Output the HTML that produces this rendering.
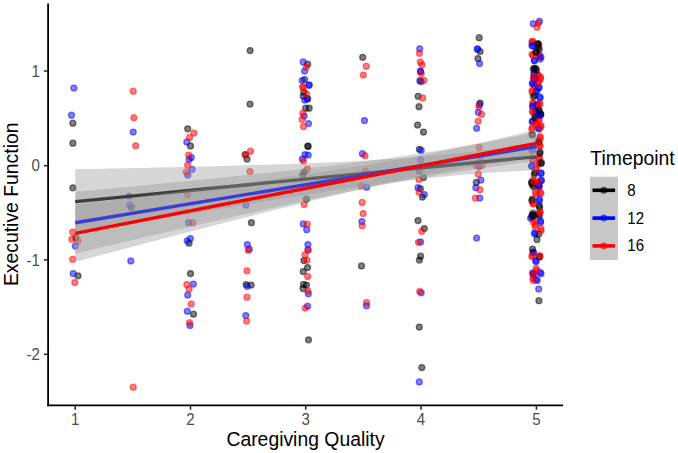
<!DOCTYPE html>
<html><head><meta charset="utf-8"><title>plot</title>
<style>
html,body{margin:0;padding:0;background:#fff;overflow:hidden}
svg{display:block;}
text{font-family:"Liberation Sans",sans-serif;}
.p circle{stroke-width:1.25;fill-opacity:.5;stroke-opacity:.5}
.k{fill:#000;stroke:#000}.b{fill:#00f;stroke:#00f}.r{fill:#f00;stroke:#f00}
.tl{font-size:16.4px;fill:#4d4d4d}
.tt{font-size:19.9px;fill:#000}
.lt{font-size:19.5px;fill:#000}
.lg{font-size:16.4px;fill:#000}
</style></head><body>
<svg width="678" height="453" viewBox="0 0 678 453">
<rect width="678" height="453" fill="#fff"/>

<g class="p">
<circle class="k" cx="72.9" cy="123.2" r="3"/>
<circle class="k" cx="72.9" cy="143.2" r="3"/>
<circle class="k" cx="72.9" cy="187.8" r="3"/>
<circle class="k" cx="75.9" cy="237.7" r="3"/>
<circle class="k" cx="78.0" cy="275.8" r="3"/>
<circle class="k" cx="131.5" cy="207.4" r="3"/>
<circle class="k" cx="187.7" cy="128.8" r="3"/>
<circle class="k" cx="190.5" cy="145.9" r="3"/>
<circle class="k" cx="189.0" cy="243.2" r="3"/>
<circle class="k" cx="190.5" cy="273.6" r="3"/>
<circle class="k" cx="193.5" cy="314.2" r="3"/>
<circle class="k" cx="250.1" cy="50.5" r="3"/>
<circle class="k" cx="250.0" cy="104.1" r="3"/>
<circle class="k" cx="245.2" cy="154.6" r="3"/>
<circle class="k" cx="247.0" cy="159.0" r="3"/>
<circle class="k" cx="251.4" cy="222.7" r="3"/>
<circle class="k" cx="246.1" cy="284.6" r="3"/>
<circle class="k" cx="251.1" cy="285.1" r="3"/>
<circle class="k" cx="307.6" cy="64.2" r="3"/>
<circle class="k" cx="304.6" cy="79.6" r="3"/>
<circle class="k" cx="303.2" cy="96.1" r="3"/>
<circle class="k" cx="307.6" cy="98.6" r="3"/>
<circle class="k" cx="305.7" cy="108.2" r="3"/>
<circle class="k" cx="309.2" cy="108.2" r="3"/>
<circle class="k" cx="308.1" cy="146.4" r="3"/>
<circle class="k" cx="307.8" cy="146.0" r="3"/>
<circle class="k" cx="304.3" cy="172.1" r="3"/>
<circle class="k" cx="302.6" cy="175.2" r="3"/>
<circle class="k" cx="306.4" cy="199.2" r="3"/>
<circle class="k" cx="303.9" cy="260.6" r="3"/>
<circle class="k" cx="307.6" cy="267.5" r="3"/>
<circle class="k" cx="303.2" cy="271.5" r="3"/>
<circle class="k" cx="303.5" cy="284.4" r="3"/>
<circle class="k" cx="306.5" cy="285.0" r="3"/>
<circle class="k" cx="303.0" cy="288.6" r="3"/>
<circle class="k" cx="308.5" cy="339.8" r="3"/>
<circle class="k" cx="303.8" cy="92.3" r="3"/>
<circle class="k" cx="362.7" cy="57.3" r="3"/>
<circle class="k" cx="361.5" cy="265.9" r="3"/>
<circle class="k" cx="419.9" cy="80.7" r="3"/>
<circle class="k" cx="418.1" cy="96.3" r="3"/>
<circle class="k" cx="419.0" cy="106.7" r="3"/>
<circle class="k" cx="417.6" cy="125.0" r="3"/>
<circle class="k" cx="423.5" cy="132.1" r="3"/>
<circle class="k" cx="419.4" cy="149.3" r="3"/>
<circle class="k" cx="419.4" cy="171.1" r="3"/>
<circle class="k" cx="423.5" cy="177.5" r="3"/>
<circle class="k" cx="420.4" cy="188.7" r="3"/>
<circle class="k" cx="422.4" cy="197.1" r="3"/>
<circle class="k" cx="418.0" cy="220.5" r="3"/>
<circle class="k" cx="424.3" cy="228.6" r="3"/>
<circle class="k" cx="420.6" cy="256.2" r="3"/>
<circle class="k" cx="419.4" cy="260.0" r="3"/>
<circle class="k" cx="419.3" cy="327.0" r="3"/>
<circle class="k" cx="421.8" cy="367.5" r="3"/>
<circle class="k" cx="479.2" cy="37.7" r="3"/>
<circle class="k" cx="480.1" cy="51.5" r="3"/>
<circle class="k" cx="478.0" cy="58.6" r="3"/>
<circle class="k" cx="480.1" cy="103.0" r="3"/>
<circle class="k" cx="476.3" cy="182.4" r="3"/>
<circle class="b" cx="73.9" cy="88.0" r="3"/>
<circle class="b" cx="71.5" cy="115.2" r="3"/>
<circle class="b" cx="75.4" cy="246.0" r="3"/>
<circle class="b" cx="73.2" cy="273.5" r="3"/>
<circle class="b" cx="133.2" cy="132.0" r="3"/>
<circle class="b" cx="129.3" cy="196.3" r="3"/>
<circle class="b" cx="129.7" cy="205.1" r="3"/>
<circle class="b" cx="130.8" cy="260.9" r="3"/>
<circle class="b" cx="186.8" cy="141.9" r="3"/>
<circle class="b" cx="191.2" cy="157.4" r="3"/>
<circle class="b" cx="189.1" cy="159.6" r="3"/>
<circle class="b" cx="192.1" cy="169.3" r="3"/>
<circle class="b" cx="187.7" cy="175.1" r="3"/>
<circle class="b" cx="188.6" cy="222.7" r="3"/>
<circle class="b" cx="190.4" cy="238.6" r="3"/>
<circle class="b" cx="187.2" cy="240.8" r="3"/>
<circle class="b" cx="193.4" cy="284.0" r="3"/>
<circle class="b" cx="187.7" cy="295.1" r="3"/>
<circle class="b" cx="187.3" cy="311.2" r="3"/>
<circle class="b" cx="190.0" cy="325.4" r="3"/>
<circle class="b" cx="245.8" cy="204.9" r="3"/>
<circle class="b" cx="247.3" cy="244.5" r="3"/>
<circle class="b" cx="249.3" cy="249.2" r="3"/>
<circle class="b" cx="247.3" cy="286.3" r="3"/>
<circle class="b" cx="245.8" cy="315.5" r="3"/>
<circle class="b" cx="303.2" cy="61.9" r="3"/>
<circle class="b" cx="304.6" cy="71.0" r="3"/>
<circle class="b" cx="302.1" cy="80.5" r="3"/>
<circle class="b" cx="309.2" cy="84.8" r="3"/>
<circle class="b" cx="304.8" cy="100.0" r="3"/>
<circle class="b" cx="307.4" cy="99.2" r="3"/>
<circle class="b" cx="304.1" cy="116.0" r="3"/>
<circle class="b" cx="308.5" cy="123.6" r="3"/>
<circle class="b" cx="305.0" cy="154.5" r="3"/>
<circle class="b" cx="308.2" cy="155.1" r="3"/>
<circle class="b" cx="302.4" cy="159.1" r="3"/>
<circle class="b" cx="303.3" cy="223.9" r="3"/>
<circle class="b" cx="306.7" cy="229.7" r="3"/>
<circle class="b" cx="307.9" cy="244.6" r="3"/>
<circle class="b" cx="308.0" cy="249.8" r="3"/>
<circle class="b" cx="308.3" cy="293.7" r="3"/>
<circle class="b" cx="307.6" cy="306.2" r="3"/>
<circle class="b" cx="309.0" cy="85.3" r="3"/>
<circle class="b" cx="477.6" cy="49.2" r="3"/>
<circle class="b" cx="420.4" cy="71.2" r="3"/>
<circle class="b" cx="364.5" cy="120.5" r="3"/>
<circle class="b" cx="362.4" cy="153.7" r="3"/>
<circle class="b" cx="366.6" cy="187.2" r="3"/>
<circle class="b" cx="361.9" cy="221.5" r="3"/>
<circle class="b" cx="366.5" cy="305.8" r="3"/>
<circle class="b" cx="419.7" cy="48.8" r="3"/>
<circle class="b" cx="420.6" cy="71.5" r="3"/>
<circle class="b" cx="421.2" cy="81.6" r="3"/>
<circle class="b" cx="421.2" cy="150.4" r="3"/>
<circle class="b" cx="420.3" cy="159.9" r="3"/>
<circle class="b" cx="418.0" cy="187.7" r="3"/>
<circle class="b" cx="424.3" cy="194.5" r="3"/>
<circle class="b" cx="420.6" cy="241.9" r="3"/>
<circle class="b" cx="421.2" cy="292.8" r="3"/>
<circle class="b" cx="419.3" cy="381.9" r="3"/>
<circle class="b" cx="477.4" cy="48.9" r="3"/>
<circle class="b" cx="479.6" cy="63.6" r="3"/>
<circle class="b" cx="479.5" cy="104.7" r="3"/>
<circle class="b" cx="478.3" cy="112.3" r="3"/>
<circle class="b" cx="476.6" cy="128.3" r="3"/>
<circle class="b" cx="478.9" cy="166.5" r="3"/>
<circle class="b" cx="480.9" cy="180.0" r="3"/>
<circle class="b" cx="475.8" cy="187.7" r="3"/>
<circle class="b" cx="479.8" cy="198.1" r="3"/>
<circle class="b" cx="476.6" cy="238.0" r="3"/>
<circle class="r" cx="72.7" cy="232.1" r="3"/>
<circle class="r" cx="71.8" cy="239.3" r="3"/>
<circle class="r" cx="78.0" cy="240.9" r="3"/>
<circle class="r" cx="72.7" cy="259.3" r="3"/>
<circle class="r" cx="74.8" cy="282.5" r="3"/>
<circle class="r" cx="133.2" cy="91.2" r="3"/>
<circle class="r" cx="133.9" cy="117.7" r="3"/>
<circle class="r" cx="135.7" cy="145.8" r="3"/>
<circle class="r" cx="133.2" cy="387.2" r="3"/>
<circle class="r" cx="193.9" cy="133.0" r="3"/>
<circle class="r" cx="189.5" cy="137.4" r="3"/>
<circle class="r" cx="188.6" cy="155.1" r="3"/>
<circle class="r" cx="187.7" cy="165.2" r="3"/>
<circle class="r" cx="186.3" cy="171.9" r="3"/>
<circle class="r" cx="187.7" cy="194.4" r="3"/>
<circle class="r" cx="192.7" cy="222.7" r="3"/>
<circle class="r" cx="186.8" cy="284.6" r="3"/>
<circle class="r" cx="189.1" cy="289.3" r="3"/>
<circle class="r" cx="191.2" cy="304.1" r="3"/>
<circle class="r" cx="189.5" cy="322.7" r="3"/>
<circle class="r" cx="250.5" cy="151.2" r="3"/>
<circle class="r" cx="245.6" cy="154.9" r="3"/>
<circle class="r" cx="250.0" cy="171.6" r="3"/>
<circle class="r" cx="248.2" cy="250.2" r="3"/>
<circle class="r" cx="247.0" cy="270.8" r="3"/>
<circle class="r" cx="247.0" cy="297.2" r="3"/>
<circle class="r" cx="246.6" cy="321.0" r="3"/>
<circle class="r" cx="306.3" cy="67.0" r="3"/>
<circle class="r" cx="302.6" cy="86.9" r="3"/>
<circle class="r" cx="303.4" cy="87.5" r="3"/>
<circle class="r" cx="306.5" cy="93.8" r="3"/>
<circle class="r" cx="302.8" cy="113.3" r="3"/>
<circle class="r" cx="302.0" cy="119.6" r="3"/>
<circle class="r" cx="303.5" cy="126.6" r="3"/>
<circle class="r" cx="303.5" cy="161.0" r="3"/>
<circle class="r" cx="307.4" cy="169.0" r="3"/>
<circle class="r" cx="304.1" cy="204.6" r="3"/>
<circle class="r" cx="307.3" cy="224.2" r="3"/>
<circle class="r" cx="308.1" cy="250.1" r="3"/>
<circle class="r" cx="305.0" cy="254.8" r="3"/>
<circle class="r" cx="307.0" cy="260.2" r="3"/>
<circle class="r" cx="307.7" cy="276.4" r="3"/>
<circle class="r" cx="307.9" cy="291.0" r="3"/>
<circle class="r" cx="305.3" cy="308.0" r="3"/>
<circle class="r" cx="366.3" cy="66.2" r="3"/>
<circle class="r" cx="363.3" cy="75.0" r="3"/>
<circle class="r" cx="365.0" cy="155.7" r="3"/>
<circle class="r" cx="365.4" cy="171.1" r="3"/>
<circle class="r" cx="361.0" cy="185.9" r="3"/>
<circle class="r" cx="362.2" cy="202.4" r="3"/>
<circle class="r" cx="363.1" cy="213.6" r="3"/>
<circle class="r" cx="362.2" cy="225.8" r="3"/>
<circle class="r" cx="366.5" cy="302.6" r="3"/>
<circle class="r" cx="419.4" cy="53.3" r="3"/>
<circle class="r" cx="420.3" cy="62.1" r="3"/>
<circle class="r" cx="422.0" cy="64.8" r="3"/>
<circle class="r" cx="421.2" cy="73.6" r="3"/>
<circle class="r" cx="423.8" cy="80.4" r="3"/>
<circle class="r" cx="422.7" cy="97.9" r="3"/>
<circle class="r" cx="419.0" cy="179.5" r="3"/>
<circle class="r" cx="419.0" cy="192.3" r="3"/>
<circle class="r" cx="421.7" cy="231.3" r="3"/>
<circle class="r" cx="418.5" cy="242.3" r="3"/>
<circle class="r" cx="419.7" cy="291.4" r="3"/>
<circle class="r" cx="478.9" cy="106.8" r="3"/>
<circle class="r" cx="481.5" cy="114.2" r="3"/>
<circle class="r" cx="478.1" cy="121.2" r="3"/>
<circle class="r" cx="479.3" cy="147.5" r="3"/>
<circle class="r" cx="480.1" cy="158.9" r="3"/>
<circle class="r" cx="476.0" cy="165.4" r="3"/>
<circle class="r" cx="481.9" cy="165.4" r="3"/>
<circle class="r" cx="478.3" cy="174.0" r="3"/>
<circle class="r" cx="479.8" cy="189.7" r="3"/>
<circle class="r" cx="475.4" cy="198.1" r="3"/>
<circle class="r" cx="532.5" cy="103.3" r="3"/>
<circle class="r" cx="532.2" cy="92.2" r="3"/>
<circle class="r" cx="541.0" cy="228.7" r="3"/>
<circle class="k" cx="535.6" cy="68.4" r="3"/>
<circle class="k" cx="538.3" cy="141.0" r="3"/>
<circle class="r" cx="539.9" cy="256.7" r="3"/>
<circle class="r" cx="537.7" cy="44.9" r="3"/>
<circle class="r" cx="535.2" cy="192.2" r="3"/>
<circle class="r" cx="538.9" cy="182.8" r="3"/>
<circle class="k" cx="534.3" cy="174.6" r="3"/>
<circle class="b" cx="532.5" cy="121.1" r="3"/>
<circle class="b" cx="539.9" cy="98.2" r="3"/>
<circle class="r" cx="541.0" cy="193.3" r="3"/>
<circle class="b" cx="539.2" cy="129.0" r="3"/>
<circle class="b" cx="538.2" cy="127.9" r="3"/>
<circle class="b" cx="540.1" cy="59.0" r="3"/>
<circle class="b" cx="534.5" cy="60.3" r="3"/>
<circle class="b" cx="541.0" cy="173.4" r="3"/>
<circle class="r" cx="532.0" cy="54.3" r="3"/>
<circle class="k" cx="531.7" cy="182.2" r="3"/>
<circle class="r" cx="539.6" cy="158.3" r="3"/>
<circle class="r" cx="538.3" cy="75.0" r="3"/>
<circle class="r" cx="535.8" cy="169.2" r="3"/>
<circle class="b" cx="535.4" cy="112.2" r="3"/>
<circle class="r" cx="533.0" cy="180.3" r="3"/>
<circle class="r" cx="538.8" cy="184.8" r="3"/>
<circle class="k" cx="538.1" cy="47.5" r="3"/>
<circle class="b" cx="540.5" cy="222.5" r="3"/>
<circle class="b" cx="533.2" cy="106.7" r="3"/>
<circle class="k" cx="539.2" cy="256.9" r="3"/>
<circle class="b" cx="539.2" cy="87.4" r="3"/>
<circle class="k" cx="539.4" cy="216.0" r="3"/>
<circle class="r" cx="539.2" cy="186.8" r="3"/>
<circle class="b" cx="533.3" cy="23.7" r="3"/>
<circle class="r" cx="539.5" cy="56.6" r="3"/>
<circle class="k" cx="534.3" cy="68.3" r="3"/>
<circle class="b" cx="532.2" cy="121.8" r="3"/>
<circle class="b" cx="534.3" cy="60.8" r="3"/>
<circle class="k" cx="539.1" cy="142.6" r="3"/>
<circle class="r" cx="533.4" cy="103.3" r="3"/>
<circle class="k" cx="538.9" cy="300.7" r="3"/>
<circle class="r" cx="533.9" cy="273.8" r="3"/>
<circle class="b" cx="536.5" cy="105.1" r="3"/>
<circle class="b" cx="538.4" cy="184.9" r="3"/>
<circle class="r" cx="533.0" cy="278.3" r="3"/>
<circle class="r" cx="534.3" cy="85.2" r="3"/>
<circle class="b" cx="536.0" cy="279.4" r="3"/>
<circle class="r" cx="532.5" cy="111.7" r="3"/>
<circle class="b" cx="530.6" cy="218.3" r="3"/>
<circle class="k" cx="538.7" cy="110.0" r="3"/>
<circle class="r" cx="537.5" cy="75.4" r="3"/>
<circle class="b" cx="536.1" cy="91.8" r="3"/>
<circle class="b" cx="533.3" cy="274.0" r="3"/>
<circle class="r" cx="532.8" cy="41.3" r="3"/>
<circle class="r" cx="532.5" cy="127.7" r="3"/>
<circle class="k" cx="531.8" cy="134.6" r="3"/>
<circle class="b" cx="535.2" cy="234.0" r="3"/>
<circle class="r" cx="533.4" cy="160.5" r="3"/>
<circle class="b" cx="541.0" cy="180.2" r="3"/>
<circle class="k" cx="539.2" cy="205.7" r="3"/>
<circle class="k" cx="532.3" cy="184.7" r="3"/>
<circle class="r" cx="531.8" cy="256.4" r="3"/>
<circle class="b" cx="534.3" cy="72.7" r="3"/>
<circle class="r" cx="535.6" cy="122.5" r="3"/>
<circle class="b" cx="535.7" cy="260.6" r="3"/>
<circle class="r" cx="533.0" cy="55.5" r="3"/>
<circle class="r" cx="535.1" cy="86.1" r="3"/>
<circle class="r" cx="535.2" cy="226.9" r="3"/>
<circle class="b" cx="532.5" cy="83.8" r="3"/>
<circle class="r" cx="540.7" cy="127.1" r="3"/>
<circle class="b" cx="540.6" cy="220.9" r="3"/>
<circle class="b" cx="537.2" cy="280.4" r="3"/>
<circle class="r" cx="540.1" cy="145.8" r="3"/>
<circle class="k" cx="539.7" cy="153.8" r="3"/>
<circle class="k" cx="533.4" cy="69.2" r="3"/>
<circle class="r" cx="538.0" cy="120.0" r="3"/>
<circle class="r" cx="533.4" cy="280.4" r="3"/>
<circle class="k" cx="535.2" cy="118.0" r="3"/>
<circle class="k" cx="534.8" cy="172.6" r="3"/>
<circle class="k" cx="539.6" cy="207.4" r="3"/>
<circle class="b" cx="539.5" cy="21.3" r="3"/>
<circle class="r" cx="534.3" cy="76.8" r="3"/>
<circle class="r" cx="532.4" cy="43.2" r="3"/>
<circle class="b" cx="533.8" cy="74.1" r="3"/>
<circle class="b" cx="537.5" cy="104.3" r="3"/>
<circle class="r" cx="540.5" cy="78.9" r="3"/>
<circle class="b" cx="537.9" cy="115.0" r="3"/>
<circle class="r" cx="538.2" cy="82.0" r="3"/>
<circle class="k" cx="534.8" cy="115.8" r="3"/>
<circle class="b" cx="538.5" cy="87.7" r="3"/>
<circle class="k" cx="533.0" cy="213.2" r="3"/>
<circle class="b" cx="540.9" cy="114.4" r="3"/>
<circle class="k" cx="532.5" cy="199.0" r="3"/>
<circle class="r" cx="531.9" cy="41.7" r="3"/>
<circle class="k" cx="538.3" cy="214.2" r="3"/>
<circle class="k" cx="533.4" cy="96.7" r="3"/>
<circle class="k" cx="534.6" cy="95.0" r="3"/>
<circle class="b" cx="535.2" cy="79.4" r="3"/>
<circle class="r" cx="538.3" cy="23.3" r="3"/>
<circle class="r" cx="539.2" cy="54.6" r="3"/>
<circle class="b" cx="536.7" cy="90.9" r="3"/>
<circle class="r" cx="538.9" cy="163.0" r="3"/>
<circle class="b" cx="533.3" cy="149.3" r="3"/>
<circle class="b" cx="532.4" cy="82.9" r="3"/>
<circle class="r" cx="538.9" cy="45.2" r="3"/>
<circle class="r" cx="540.0" cy="192.7" r="3"/>
<circle class="k" cx="541.0" cy="163.5" r="3"/>
<circle class="b" cx="532.5" cy="106.4" r="3"/>
<circle class="k" cx="538.0" cy="43.5" r="3"/>
<circle class="k" cx="536.1" cy="51.1" r="3"/>
<circle class="r" cx="540.6" cy="77.0" r="3"/>
<circle class="r" cx="532.8" cy="203.2" r="3"/>
<circle class="r" cx="539.8" cy="255.5" r="3"/>
<circle class="r" cx="532.7" cy="160.4" r="3"/>
<circle class="r" cx="539.2" cy="120.2" r="3"/>
<circle class="k" cx="536.5" cy="70.1" r="3"/>
<circle class="r" cx="536.5" cy="124.2" r="3"/>
<circle class="k" cx="532.5" cy="134.8" r="3"/>
<circle class="k" cx="539.2" cy="49.3" r="3"/>
<circle class="k" cx="540.4" cy="114.6" r="3"/>
<circle class="b" cx="536.5" cy="111.3" r="3"/>
<circle class="b" cx="541.0" cy="172.9" r="3"/>
<circle class="b" cx="537.0" cy="113.0" r="3"/>
<circle class="b" cx="541.5" cy="180.6" r="3"/>
<circle class="k" cx="533.4" cy="186.6" r="3"/>
<circle class="b" cx="531.8" cy="165.8" r="3"/>
<circle class="b" cx="533.6" cy="252.6" r="3"/>
<circle class="r" cx="538.7" cy="81.6" r="3"/>
<circle class="k" cx="540.5" cy="113.9" r="3"/>
<circle class="b" cx="541.0" cy="273.7" r="3"/>
<circle class="r" cx="531.8" cy="128.9" r="3"/>
<circle class="k" cx="537.0" cy="239.6" r="3"/>
<circle class="r" cx="538.8" cy="157.1" r="3"/>
<circle class="r" cx="541.0" cy="125.5" r="3"/>
<circle class="r" cx="539.5" cy="145.4" r="3"/>
<circle class="b" cx="539.2" cy="186.4" r="3"/>
<circle class="r" cx="538.7" cy="164.0" r="3"/>
<circle class="r" cx="533.3" cy="221.9" r="3"/>
<circle class="r" cx="536.1" cy="168.9" r="3"/>
<circle class="r" cx="536.1" cy="268.5" r="3"/>
<circle class="b" cx="540.1" cy="97.1" r="3"/>
<circle class="k" cx="531.8" cy="182.8" r="3"/>
<circle class="k" cx="533.9" cy="215.4" r="3"/>
<circle class="b" cx="533.0" cy="45.8" r="3"/>
<circle class="b" cx="541.0" cy="57.0" r="3"/>
<circle class="r" cx="540.1" cy="136.5" r="3"/>
<circle class="r" cx="533.8" cy="77.5" r="3"/>
<circle class="k" cx="541.4" cy="162.7" r="3"/>
<circle class="r" cx="540.1" cy="212.3" r="3"/>
<circle class="b" cx="533.0" cy="252.0" r="3"/>
<circle class="b" cx="531.7" cy="166.2" r="3"/>
<circle class="k" cx="538.7" cy="234.0" r="3"/>
<circle class="k" cx="532.1" cy="214.9" r="3"/>
<circle class="r" cx="532.5" cy="255.2" r="3"/>
<circle class="r" cx="532.7" cy="111.5" r="3"/>
<circle class="k" cx="537.9" cy="44.1" r="3"/>
<circle class="b" cx="540.1" cy="115.3" r="3"/>
<circle class="b" cx="531.9" cy="45.8" r="3"/>
<circle class="b" cx="538.7" cy="289.0" r="3"/>
<circle class="r" cx="534.8" cy="76.5" r="3"/>
<circle class="b" cx="532.5" cy="272.9" r="3"/>
<circle class="b" cx="540.1" cy="272.4" r="3"/>
<circle class="k" cx="540.1" cy="152.1" r="3"/>
<circle class="r" cx="536.5" cy="193.7" r="3"/>
<circle class="k" cx="532.5" cy="249.0" r="3"/>
<circle class="r" cx="541.0" cy="230.8" r="3"/>
<circle class="b" cx="536.1" cy="261.8" r="3"/>
<circle class="b" cx="534.1" cy="78.1" r="3"/>
<circle class="b" cx="534.3" cy="233.1" r="3"/>
<circle class="b" cx="532.1" cy="150.8" r="3"/>
<circle class="r" cx="533.2" cy="273.9" r="3"/>
<circle class="b" cx="539.5" cy="199.3" r="3"/>
<circle class="k" cx="531.8" cy="200.6" r="3"/>
<circle class="r" cx="536.9" cy="270.6" r="3"/>
<circle class="r" cx="532.1" cy="90.5" r="3"/>
<circle class="r" cx="540.1" cy="103.8" r="3"/>
<circle class="r" cx="533.4" cy="203.9" r="3"/>
<circle class="k" cx="539.2" cy="110.4" r="3"/>
<circle class="r" cx="534.0" cy="181.5" r="3"/>
<circle class="r" cx="537.0" cy="27.3" r="3"/>
<circle class="r" cx="534.5" cy="219.9" r="3"/>
<circle class="k" cx="535.9" cy="52.5" r="3"/>
<circle class="r" cx="540.0" cy="212.2" r="3"/>
<circle class="r" cx="535.3" cy="224.8" r="3"/>
<circle class="r" cx="537.9" cy="181.5" r="3"/>
<circle class="b" cx="531.8" cy="216.8" r="3"/>
<circle class="r" cx="540.2" cy="138.2" r="3"/>
<circle class="r" cx="533.4" cy="78.1" r="3"/>
<circle class="b" cx="539.2" cy="200.8" r="3"/>
<circle class="k" cx="532.5" cy="215.9" r="3"/>
<circle class="r" cx="538.9" cy="104.5" r="3"/>
</g>
<path d="M75.3,169.3 L86.8,169.1 L98.3,168.9 L109.9,168.6 L121.4,168.4 L132.9,168.1 L144.4,167.9 L156.0,167.6 L167.5,167.4 L179.0,167.1 L190.5,166.8 L202.1,166.5 L213.6,166.2 L225.1,165.9 L236.6,165.6 L248.2,165.3 L259.7,164.9 L271.2,164.6 L282.7,164.2 L294.3,163.8 L305.8,163.4 L317.3,162.9 L328.8,162.4 L340.4,161.9 L351.9,161.3 L363.4,160.7 L374.9,160.0 L386.5,159.3 L398.0,158.5 L409.5,157.7 L421.0,156.7 L432.6,155.7 L444.1,154.6 L455.6,153.4 L467.1,152.2 L478.7,150.8 L490.2,149.4 L501.7,147.9 L513.2,146.4 L524.8,144.8 L536.3,143.1 L536.3,170.1 L524.8,170.7 L513.2,171.3 L501.7,172.0 L490.2,172.8 L478.7,173.6 L467.1,174.5 L455.6,175.5 L444.1,176.6 L432.6,177.8 L421.0,179.0 L409.5,180.3 L398.0,181.7 L386.5,183.1 L374.9,184.7 L363.4,186.3 L351.9,187.9 L340.4,189.6 L328.8,191.3 L317.3,193.1 L305.8,194.8 L294.3,196.7 L282.7,198.5 L271.2,200.4 L259.7,202.3 L248.2,204.2 L236.6,206.1 L225.1,208.0 L213.6,210.0 L202.1,211.9 L190.5,213.9 L179.0,215.9 L167.5,217.8 L156.0,219.8 L144.4,221.8 L132.9,223.8 L121.4,225.8 L109.9,227.8 L98.3,229.8 L86.8,231.9 L75.3,233.9Z" fill="#999" fill-opacity=".4"/>
<line x1="75.3" y1="201.6" x2="536.3" y2="156.6" stroke="#000" stroke-width="3.4"/>
<path d="M75.3,191.8 L86.8,190.7 L98.3,189.7 L109.9,188.6 L121.4,187.5 L132.9,186.4 L144.4,185.3 L156.0,184.1 L167.5,183.0 L179.0,181.9 L190.5,180.7 L202.1,179.6 L213.6,178.4 L225.1,177.3 L236.6,176.1 L248.2,174.9 L259.7,173.6 L271.2,172.4 L282.7,171.2 L294.3,169.9 L305.8,168.6 L317.3,167.2 L328.8,165.9 L340.4,164.5 L351.9,163.0 L363.4,161.5 L374.9,160.0 L386.5,158.4 L398.0,156.8 L409.5,155.1 L421.0,153.3 L432.6,151.5 L444.1,149.6 L455.6,147.6 L467.1,145.6 L478.7,143.5 L490.2,141.4 L501.7,139.2 L513.2,136.9 L524.8,134.6 L536.3,132.2 L536.3,161.0 L524.8,162.4 L513.2,163.9 L501.7,165.5 L490.2,167.1 L478.7,168.7 L467.1,170.4 L455.6,172.2 L444.1,174.1 L432.6,176.0 L421.0,178.0 L409.5,180.0 L398.0,182.1 L386.5,184.3 L374.9,186.5 L363.4,188.8 L351.9,191.1 L340.4,193.4 L328.8,195.8 L317.3,198.3 L305.8,200.7 L294.3,203.2 L282.7,205.8 L271.2,208.3 L259.7,210.9 L248.2,213.5 L236.6,216.1 L225.1,218.7 L213.6,221.3 L202.1,224.0 L190.5,226.6 L179.0,229.3 L167.5,231.9 L156.0,234.6 L144.4,237.3 L132.9,240.0 L121.4,242.7 L109.9,245.4 L98.3,248.1 L86.8,250.9 L75.3,253.6Z" fill="#999" fill-opacity=".4"/>
<line x1="75.3" y1="222.7" x2="536.3" y2="146.6" stroke="#00f" stroke-width="3.4"/>
<path d="M75.3,204.7 L86.8,203.3 L98.3,201.8 L109.9,200.4 L121.4,198.9 L132.9,197.4 L144.4,196.0 L156.0,194.5 L167.5,193.0 L179.0,191.5 L190.5,190.0 L202.1,188.5 L213.6,187.0 L225.1,185.5 L236.6,183.9 L248.2,182.4 L259.7,180.8 L271.2,179.2 L282.7,177.6 L294.3,175.9 L305.8,174.3 L317.3,172.6 L328.8,170.9 L340.4,169.1 L351.9,167.3 L363.4,165.4 L374.9,163.5 L386.5,161.6 L398.0,159.5 L409.5,157.5 L421.0,155.3 L432.6,153.1 L444.1,150.7 L455.6,148.3 L467.1,145.9 L478.7,143.3 L490.2,140.7 L501.7,138.0 L513.2,135.2 L524.8,132.4 L536.3,129.5 L536.3,157.1 L524.8,158.7 L513.2,160.4 L501.7,162.1 L490.2,163.9 L478.7,165.8 L467.1,167.7 L455.6,169.8 L444.1,171.9 L432.6,174.0 L421.0,176.3 L409.5,178.6 L398.0,181.1 L386.5,183.5 L374.9,186.1 L363.4,188.7 L351.9,191.3 L340.4,194.0 L328.8,196.7 L317.3,199.5 L305.8,202.3 L294.3,205.2 L282.7,208.0 L271.2,210.9 L259.7,213.8 L248.2,216.7 L236.6,219.7 L225.1,222.6 L213.6,225.6 L202.1,228.6 L190.5,231.6 L179.0,234.6 L167.5,237.6 L156.0,240.6 L144.4,243.6 L132.9,246.7 L121.4,249.7 L109.9,252.7 L98.3,255.8 L86.8,258.8 L75.3,261.9Z" fill="#999" fill-opacity=".4"/>
<line x1="75.3" y1="233.3" x2="536.3" y2="143.3" stroke="#f00" stroke-width="3.4"/>
<line x1="48.1" y1="3.4" x2="48.1" y2="406.3" stroke="#000" stroke-width="1.8"/>
<line x1="47.2" y1="405.4" x2="563.1" y2="405.4" stroke="#000" stroke-width="1.8"/>
<line x1="43.9" y1="71.0" x2="48" y2="71.0" stroke="#222" stroke-width="1.5"/>
<text class="tl" transform="translate(39.90,76.60) scale(0.920,1)" text-anchor="end">1</text>
<line x1="43.9" y1="165.7" x2="48" y2="165.7" stroke="#222" stroke-width="1.5"/>
<text class="tl" transform="translate(39.90,171.30) scale(0.920,1)" text-anchor="end">0</text>
<line x1="43.9" y1="259.9" x2="48" y2="259.9" stroke="#222" stroke-width="1.5"/>
<text class="tl" transform="translate(39.90,265.50) scale(0.920,1)" text-anchor="end">-1</text>
<line x1="43.9" y1="354.3" x2="48" y2="354.3" stroke="#222" stroke-width="1.5"/>
<text class="tl" transform="translate(39.90,359.90) scale(0.920,1)" text-anchor="end">-2</text>
<line x1="75.2" y1="405.4" x2="75.2" y2="409.7" stroke="#222" stroke-width="1.5"/>
<text class="tl" transform="translate(75.20,424.70) scale(0.920,1)" text-anchor="middle">1</text>
<line x1="190.5" y1="405.4" x2="190.5" y2="409.7" stroke="#222" stroke-width="1.5"/>
<text class="tl" transform="translate(190.50,424.70) scale(0.920,1)" text-anchor="middle">2</text>
<line x1="305.7" y1="405.4" x2="305.7" y2="409.7" stroke="#222" stroke-width="1.5"/>
<text class="tl" transform="translate(305.70,424.70) scale(0.920,1)" text-anchor="middle">3</text>
<line x1="421.0" y1="405.4" x2="421.0" y2="409.7" stroke="#222" stroke-width="1.5"/>
<text class="tl" transform="translate(421.00,424.70) scale(0.920,1)" text-anchor="middle">4</text>
<line x1="536.4" y1="405.4" x2="536.4" y2="409.7" stroke="#222" stroke-width="1.5"/>
<text class="tl" transform="translate(536.40,424.70) scale(0.920,1)" text-anchor="middle">5</text>
<text class="tt" transform="translate(305.50,446.10) scale(0.973,1)" text-anchor="middle">Caregiving Quality</text>
<text class="tt" transform="translate(18.10,204.30) rotate(-90) scale(0.973,1)" text-anchor="middle">Executive Function</text>
<text class="lt" transform="translate(590.30,164.80) scale(0.995,1)" text-anchor="start">Timepoint</text>
<rect x="589.9" y="176.7" width="28" height="83.3" fill="#c7c7c7"/>
<circle cx="603.8" cy="190.3" r="3" fill="#000" stroke="#000" stroke-width="1.1" fill-opacity=".5" stroke-opacity=".5"/>
<line x1="592.5" y1="190.3" x2="615.1" y2="190.3" stroke="#000" stroke-width="3.6"/>
<text class="lg" transform="translate(627.30,195.80) scale(0.920,1)" text-anchor="start">8</text>
<circle cx="603.8" cy="218.1" r="3" fill="#00f" stroke="#00f" stroke-width="1.1" fill-opacity=".5" stroke-opacity=".5"/>
<line x1="592.5" y1="218.1" x2="615.1" y2="218.1" stroke="#00f" stroke-width="3.6"/>
<text class="lg" transform="translate(627.30,223.60) scale(0.920,1)" text-anchor="start">12</text>
<circle cx="603.8" cy="245.9" r="3" fill="#f00" stroke="#f00" stroke-width="1.1" fill-opacity=".5" stroke-opacity=".5"/>
<line x1="592.5" y1="245.9" x2="615.1" y2="245.9" stroke="#f00" stroke-width="3.6"/>
<text class="lg" transform="translate(627.30,251.40) scale(0.920,1)" text-anchor="start">16</text>
</svg></body></html>
